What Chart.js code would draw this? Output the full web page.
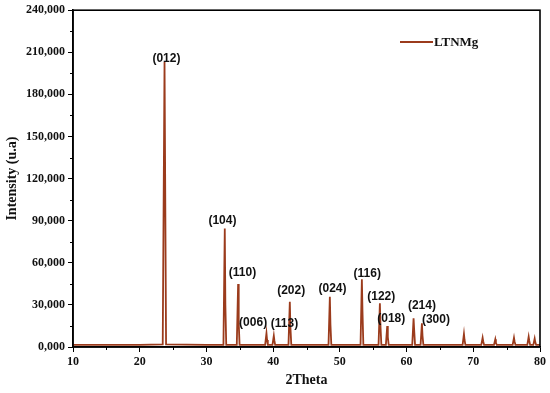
<!DOCTYPE html>
<html>
<head>
<meta charset="utf-8">
<script src="https://cdn.jsdelivr.net/npm/chart.js@4.4.1/dist/chart.umd.min.js"></script>
<style>
html,body{margin:0;padding:0;background:#fff;}
#wrap{width:550px;height:393px;}
</style>
</head>
<body>
<div id="wrap"><canvas id="c" width="550" height="393"></canvas></div>
<script>
// 2Theta positions (degrees)
const twoTheta = [
  10, 20, 23.45, 23.72, 23.95, 30,
  32.55, 32.75, 32.84, 32.97,
  34.55, 34.75, 34.84, 34.97,
  38.8, 39.0, 39.09, 39.2,
  39.9, 40.1, 40.19, 40.3,
  42.3, 42.5, 42.59, 42.72,
  48.3, 48.5, 48.59, 48.72,
  53.1, 53.3, 53.39, 53.52,
  55.8, 56.0, 56.09, 56.22,
  56.9, 57.1, 57.19, 57.32,
  60.85, 61.05, 61.14, 61.27,
  62.1, 62.3, 62.39, 62.52,
  68.4, 68.6, 68.69, 68.82,
  71.2, 71.4, 71.49, 71.62,
  73.1, 73.3, 73.39, 73.52,
  75.9, 76.1, 76.19, 76.32,
  78.1, 78.3, 78.39, 78.52,
  79.0, 79.2, 79.29, 79.42,
  80
];
// Intensity (u.a)
const intensity = [
  1500, 1500, 1800, 203000, 1900, 1500,
  1500, 84500, 30000, 1500,
  1500, 44900, 17000, 1500,
  1500, 9800, 5000, 1500,
  1500, 8000, 4500, 1500,
  1500, 32300, 14000, 1500,
  1500, 35800, 16000, 1500,
  1500, 48200, 26000, 1500,
  1500, 31100, 15000, 1500,
  1500, 15000, 7000, 1500,
  1500, 20400, 12000, 1500,
  1500, 16900, 8000, 1500,
  1500, 9300, 5000, 1500,
  1500, 6600, 4000, 1500,
  1500, 5500, 3000, 1500,
  1500, 6600, 4000, 1500,
  1500, 7300, 4500, 1500,
  1500, 6000, 3500, 1500,
  1500
];
// Miller index labels and their anchor positions (data units)
const peakLabels = ["(012)","(104)","(110)","(006)","(113)","(202)","(024)","(116)","(122)","(018)","(214)","(300)"];
const labelX = [24.0, 32.4, 35.4, 37.0, 41.7, 42.7, 48.9, 54.1, 56.2, 57.7, 62.3, 64.4];
const labelY = [205800, 89900, 52900, 17300, 16900, 39900, 41800, 52000, 35800, 20400, 29200, 19200];
const xTicks = [10, 20, 30, 40, 50, 60, 70, 80];
const yTicks = [0, 30000, 60000, 90000, 120000, 150000, 180000, 210000, 240000];
const seriesName = "LTNMg";

const lineColor = '#9b3b1c';
const serif = "'Liberation Serif', 'Times New Roman', serif";

const pts = twoTheta.map((x, i) => ({x: x, y: intensity[i]}));

const decor = {
  id: 'decor',
  afterDraw(chart) {
    const ctx = chart.ctx, a = chart.chartArea;
    const xs = chart.scales.x, ys = chart.scales.y;
    ctx.save();
    // frame
    ctx.strokeStyle = '#000';
    ctx.lineWidth = 1.6;
    ctx.strokeRect(a.left, a.top, a.right - a.left, a.bottom - a.top);
    // minor ticks
    ctx.lineWidth = 1;
    ctx.beginPath();
    for (let i = 0; i < xTicks.length - 1; i++) {
      const px = Math.round(xs.getPixelForValue((xTicks[i] + xTicks[i+1]) / 2)) + 0.5;
      ctx.moveTo(px, a.bottom); ctx.lineTo(px, a.bottom + 3);
    }
    for (let i = 0; i < yTicks.length - 1; i++) {
      const py = Math.round(ys.getPixelForValue((yTicks[i] + yTicks[i+1]) / 2)) + 0.5;
      ctx.moveTo(a.left, py); ctx.lineTo(a.left - 3, py);
    }
    ctx.stroke();
    // peak labels
    ctx.fillStyle = '#111';
    ctx.font = "bold 12px 'Liberation Sans', Arial, sans-serif";
    ctx.textAlign = 'center';
    ctx.textBaseline = 'middle';
    peakLabels.forEach((t, i) => {
      ctx.fillText(t, xs.getPixelForValue(labelX[i]), ys.getPixelForValue(labelY[i]));
    });
    // legend
    ctx.strokeStyle = lineColor;
    ctx.lineWidth = 1.8;
    ctx.beginPath();
    ctx.moveTo(400, 42); ctx.lineTo(433, 42);
    ctx.stroke();
    ctx.fillStyle = '#111';
    ctx.font = "bold 13px " + serif;
    ctx.textAlign = 'left';
    ctx.fillText(seriesName, 434, 43);
    ctx.restore();
  }
};

new Chart(document.getElementById('c'), {
  type: 'line',
  data: {
    datasets: [{
      label: seriesName,
      data: pts,
      borderColor: lineColor,
      borderWidth: 1.8,
      pointRadius: 0,
      tension: 0,
      fill: false
    }]
  },
  options: {
    responsive: false,
    animation: false,
    layout: {padding: {left: 0, right: 10, top: 10, bottom: 0}},
    plugins: {legend: {display: false}, tooltip: {enabled: false}},
    scales: {
      x: {
        type: 'linear', min: 10, max: 80,
        afterBuildTicks(s) { s.ticks = xTicks.map(v => ({value: v})); },
        afterFit(s) { s.height = 46; },
        grid: {display: true, drawOnChartArea: false, drawTicks: true, tickLength: 5, color: '#000', lineWidth: 1},
        border: {display: true, color: '#000', width: 1.6},
        ticks: {color: '#111', font: {family: serif, size: 12, weight: 'bold'}, padding: 3, maxRotation: 0},
        title: {display: true, text: '2Theta', color: '#111', font: {family: serif, size: 14, weight: 'bold'}, padding: {top: 2}}
      },
      y: {
        type: 'linear', min: 0, max: 240000,
        afterBuildTicks(s) { s.ticks = yTicks.map(v => ({value: v})); },
        afterFit(s) { s.width = 73; },
        grid: {display: true, drawOnChartArea: false, drawTicks: true, tickLength: 5, color: '#000', lineWidth: 1},
        border: {display: true, color: '#000', width: 1.6},
        ticks: {color: '#111', font: {family: serif, size: 12, weight: 'bold'}, padding: 3,
          callback: v => v === 0 ? '0,000' : v.toLocaleString('en-US')},
        title: {display: true, text: 'Intensity (u.a)', color: '#111', font: {family: serif, size: 14, weight: 'bold'}, padding: {bottom: 0}}
      }
    }
  },
  plugins: [decor]
});
</script>
</body>
</html>
